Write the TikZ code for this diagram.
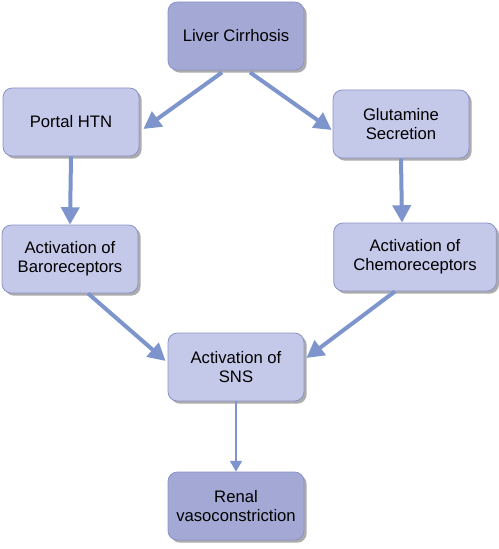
\documentclass[tikz,border=0pt]{standalone}
\usepackage{fontspec}
\setmainfont{Liberation Sans}
\usetikzlibrary{shadows, arrows.meta, calc}

\definecolor{boxlight}{RGB}{197,201,233}
\definecolor{boxdark}{RGB}{163,169,212}
\definecolor{boxline}{RGB}{138,146,198}
\definecolor{arrowblue}{RGB}{125,149,204}

\tikzset{
  stage/.style={rounded corners=7pt, draw=boxline, line width=0.6pt, fill=boxlight,
    minimum width=102pt, minimum height=51pt, align=center,
    font=\fontsize{12.5}{14}\selectfont,
    drop shadow={shadow xshift=2pt, shadow yshift=-2pt, fill=black!50, opacity=0.65}},
  keystage/.style={stage, fill=boxdark},
  bigarrow/.style={draw=arrowblue, line width=3pt, -{Triangle[length=13pt, width=13.5pt]}},
  smallarrow/.style={draw=arrowblue, line width=1pt, -{Triangle[length=8pt, width=9pt]}}
}

\begin{document}
\begin{tikzpicture}[x=0.75pt, y=-0.75pt]
    \useasboundingbox (0,0) rectangle (499,549);

    % Boxes
    \node[keystage] (cirrhosis) at (236, 36) {Liver Cirrhosis};
    \node[stage] (portal) at (71, 122) {Portal HTN};
    \node[stage] (glutamine) at (401, 124) {Glutamine\\Secretion};
    \node[stage] (baro) at (70, 259) {Activation of\\Baroreceptors};
    \node[stage, minimum width=122pt] (chemo) at (415, 257) {Activation of\\Chemoreceptors};
    \node[stage] (sns) at (236, 367) {Activation of\\SNS};
    \node[keystage] (renal) at (236, 506) {Renal\\vasoconstriction};

    % Arrows
    \draw[bigarrow] ($(cirrhosis.south)+(-14,2)$) -- ($(portal.east)+(4,7)$);
    \draw[bigarrow] ($(cirrhosis.south)+(14,2)$) -- ($(glutamine.west)+(-1,6)$);
    \draw[bigarrow] (portal.south) -- (baro.north);
    \draw[bigarrow] (glutamine.south) -- ($(chemo.north)+(-13,0)$);
    \draw[bigarrow] ($(baro.south)+(18,0)$) -- ($(sns.west)+(-2,-6)$);
    \draw[bigarrow] ($(chemo.south)+(-20,0)$) -- ($(sns.east)+(2,-9)$);
    \draw[smallarrow] (sns.south) -- (renal.north);
\end{tikzpicture}
\end{document}
